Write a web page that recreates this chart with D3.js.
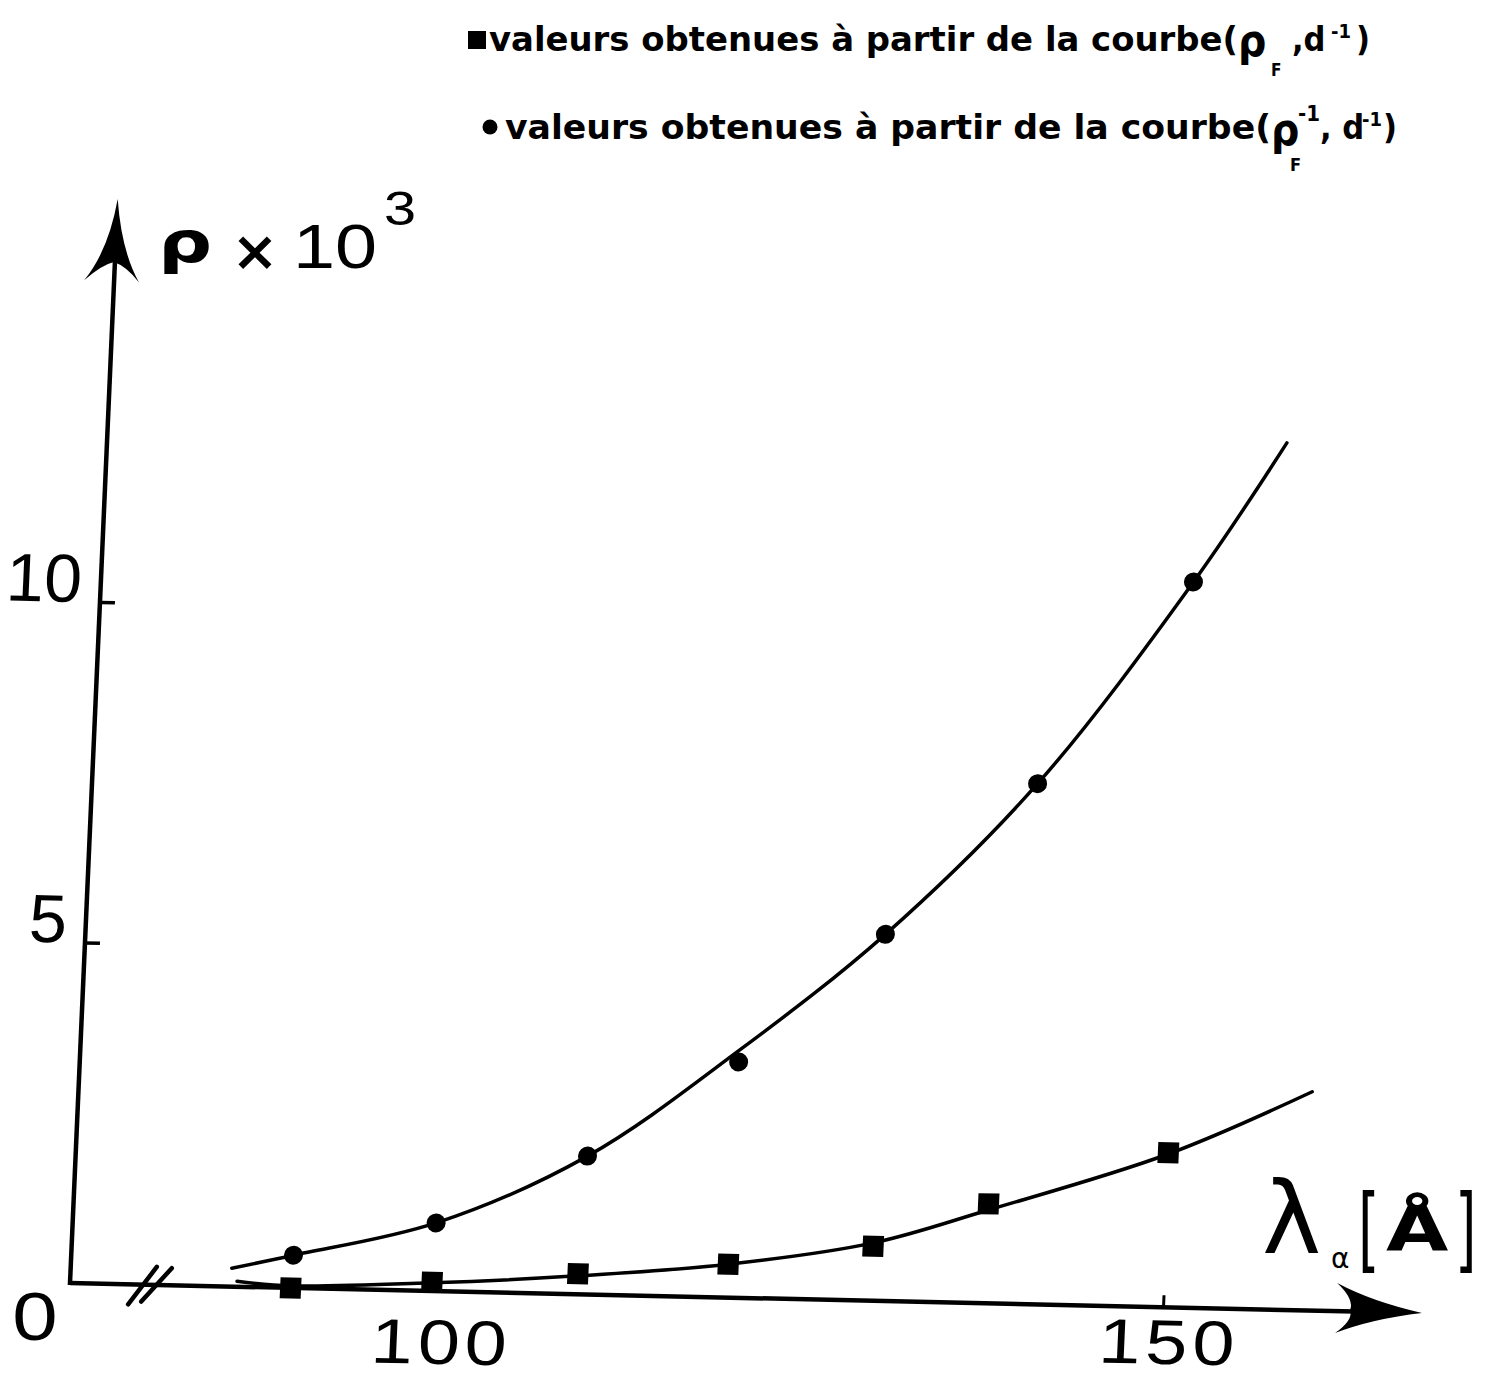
<!DOCTYPE html>
<html>
<head>
<meta charset="utf-8">
<script src="https://cdn.jsdelivr.net/npm/d3@7"></script>
<style>
  body { margin: 0; background: #fff; }
  svg { display: block; }
  .digits { font-family: "Liberation Sans", Arial, sans-serif; font-size: 68px; fill: #000; }
  .xlab { font-size: 63px; }
  .legend { font-family: "DejaVu Sans Condensed", "DejaVu Sans", sans-serif; font-weight: bold; font-size: 34px; fill: #000; }
  .sym { font-family: "DejaVu Sans", sans-serif; fill: #000; }
</style>
</head>
<body>
<svg id="chart"></svg>
<script>
// points (rho_F^-1, d^-1), circles
const circleLambda = [90.1, 99.8, 110.0, 120.1, 129.8, 139.8, 149.9];
const circleRho = [0.48, 1.0, 2.03, 3.46, 5.38, 7.64, 10.65];

// points (rho_F, d^-1), squares
const squareLambda = [90.0, 99.7, 109.7, 120.0, 129.9, 137.7, 149.9];
const squareRho = [0.0, 0.13, 0.3, 0.49, 0.8, 1.46, 2.27];

// the two hand drawn fitted curves
const upperLambda = [85.9, 90.1, 99.8, 110.0, 120.1, 129.8, 139.8, 149.9, 155.9];
const upperRho = [0.27, 0.48, 1.0, 2.03, 3.63, 5.38, 7.64, 10.65, 12.72];
const lowerLambda = [86.3, 90.0, 99.7, 109.7, 120.0, 129.9, 137.7, 149.9, 159.6];
const lowerRho = [0.08, 0.03, 0.12, 0.27, 0.49, 0.85, 1.37, 2.25, 3.21];

const xTicks = [100, 150];
const yTicks = [5, 10];
const legendLabel = "valeurs obtenues à partir de la courbe(";

const width = 1488;
const height = 1379;
// the scanned axes are not quite square, so the plot is sheared a little
const origin = { x: 70, y: 1283 };
const leanY = 0.044;
const leanX = 0.0222;
const stretch = 1.2;

const svg = d3.select("#chart").attr("width", width).attr("height", height);
svg.append("rect").attr("width", width).attr("height", height).attr("fill", "#fff");

const plot = svg
  .append("g")
  .attr("transform", `matrix(1,${leanX},${-leanY},1,${origin.x},${origin.y})`);

const x = d3.scaleLinear().domain([100, 150]).range([366, 1093]);
const y = d3.scaleLinear().domain([0, 10]).range([0, -681]);

// axes lines with arrow heads
plot.append("path").attr("d", "M0,0H1285").attr("stroke", "#000").attr("stroke-width", 4.5).attr("fill", "none");
plot.append("path").attr("d", "M0,2V-1030").attr("stroke", "#000").attr("stroke-width", 4.5).attr("fill", "none");

plot
  .append("path")
  .attr("d", "M0,-1084Q-7,-1032 -30,-1002Q-13,-1018 -1,-1021Q12,-1017 25,-1001Q6,-1032 0,-1084Z")
  .attr("fill", "#000");
plot
  .append("path")
  .attr("d", "M1352,0Q1302,-10 1266,-28Q1284,-12 1280,-1Q1284,8 1266,22Q1302,7 1352,0Z")
  .attr("fill", "#000");

// axis break
plot
  .append("path")
  .attr("d", "M59,20L86,-18M72,17L101,-17")
  .attr("stroke", "#000")
  .attr("stroke-width", 4.5)
  .attr("stroke-linecap", "round");

// x axis ticks and labels
const xAxis = plot
  .append("g")
  .call(d3.axisBottom(x).tickValues(xTicks).tickSizeInner(-12).tickSizeOuter(0).tickPadding(28));
xAxis.select(".domain").remove();
xAxis.selectAll(".tick line").attr("stroke-width", 3);
xAxis
  .selectAll(".tick text")
  .attr("class", "digits xlab")
  // the labels were lettered level, so undo the axis slope
  .attr("y", (d) => 28 - leanX * (x(d) - x(xTicks[0])))
  .attr("dx", 7 / stretch)
  .attr("letter-spacing", 4)
  .attr("transform", `scale(${stretch},1)`);

// y axis ticks and labels
const yAxis = plot
  .append("g")
  .call(d3.axisLeft(y).tickValues(yTicks).tickSizeInner(-15).tickSizeOuter(0).tickPadding(19));
yAxis.select(".domain").remove();
yAxis.selectAll(".tick line").attr("stroke-width", 3.5);
yAxis.selectAll(".tick text").attr("class", "digits").attr("dy", 0);

// curves
const line = d3
  .line()
  .x((d) => x(d[0]))
  .y((d) => y(d[1]))
  .curve(d3.curveCatmullRom);

plot
  .append("path")
  .datum(d3.zip(upperLambda, upperRho))
  .attr("d", line)
  .attr("fill", "none")
  .attr("stroke", "#000")
  .attr("stroke-width", 3.5)
  .attr("stroke-linecap", "round");

plot
  .append("path")
  .datum(d3.zip(lowerLambda, lowerRho))
  .attr("d", line)
  .attr("fill", "none")
  .attr("stroke", "#000")
  .attr("stroke-width", 3.5)
  .attr("stroke-linecap", "round");

// markers
plot
  .selectAll(".dot")
  .data(d3.zip(circleLambda, circleRho))
  .join("circle")
  .attr("class", "dot")
  .attr("cx", (d) => x(d[0]))
  .attr("cy", (d) => y(d[1]))
  .attr("r", 9.5)
  .attr("fill", "#000");

const sq = 21;
plot
  .selectAll(".square")
  .data(d3.zip(squareLambda, squareRho))
  .join("rect")
  .attr("class", "square")
  .attr("x", (d) => x(d[0]) - sq / 2)
  .attr("y", (d) => y(d[1]) - sq / 2)
  .attr("width", sq)
  .attr("height", sq)
  .attr("fill", "#000");

// helper for the loose texts around the plot
function label(str, px, py, cls, size, opts = {}) {
  const t = svg
    .append("text")
    .attr("class", cls)
    .attr("transform", `translate(${px},${py}) scale(${opts.sx || 1},1)`)
    .attr("font-size", size)
    .style("font-size", size + "px")
    .attr("text-anchor", opts.anchor || "start")
    .text(str);
  if (opts.bold) t.attr("font-weight", "bold");
  if (opts.length) t.attr("textLength", opts.length).attr("lengthAdjust", "spacingAndGlyphs");
  return t;
}

// origin label
label("0", 35, 1340, "digits", 68, { sx: stretch, anchor: "middle" });

// y title: rho x 10^3
label("ρ", 158, 262, "sym", 56, { sx: 1.35, bold: true });
label("×", 255, 270, "sym", 56, { anchor: "middle", bold: true });
label("10", 293, 268, "digits", 63, { sx: stretch });
label("3", 384, 225, "digits", 48, { sx: stretch });

// x title: lambda [A]
label("λ", 1262, 1253, "sym", 100);
label("α", 1331, 1268, "sym", 28);
label("[", 1358, 1261, "sym", 92, { sx: 0.6 });
label("Å", 1386, 1250, "sym", 62, { sx: 1.3, bold: true });
label("]", 1455, 1261, "sym", 92, { sx: 0.6 });

// legend, line 1 (squares)
svg.append("rect").attr("x", 468).attr("y", 31).attr("width", 18).attr("height", 18).attr("fill", "#000");
label(legendLabel, 489, 51, "legend", 34, { length: 749 });
label("ρ", 1238, 56, "legend", 44);
label("F", 1271, 76, "legend", 17);
label(",d", 1292, 51, "legend", 34);
label("-1", 1331, 38, "legend", 20);
label(")", 1356, 51, "legend", 34);

// legend, line 2 (circles)
svg.append("circle").attr("cx", 490).attr("cy", 127).attr("r", 7.5).attr("fill", "#000");
label(legendLabel, 505, 139, "legend", 34, { length: 766 });
label("ρ", 1271, 145, "legend", 44);
label("-1", 1298, 121, "legend", 22);
label("F", 1290, 171, "legend", 18);
label(", d", 1320, 139, "legend", 34);
label("-1", 1362, 126, "legend", 20);
label(")", 1383, 139, "legend", 34);
</script>
</body>
</html>
